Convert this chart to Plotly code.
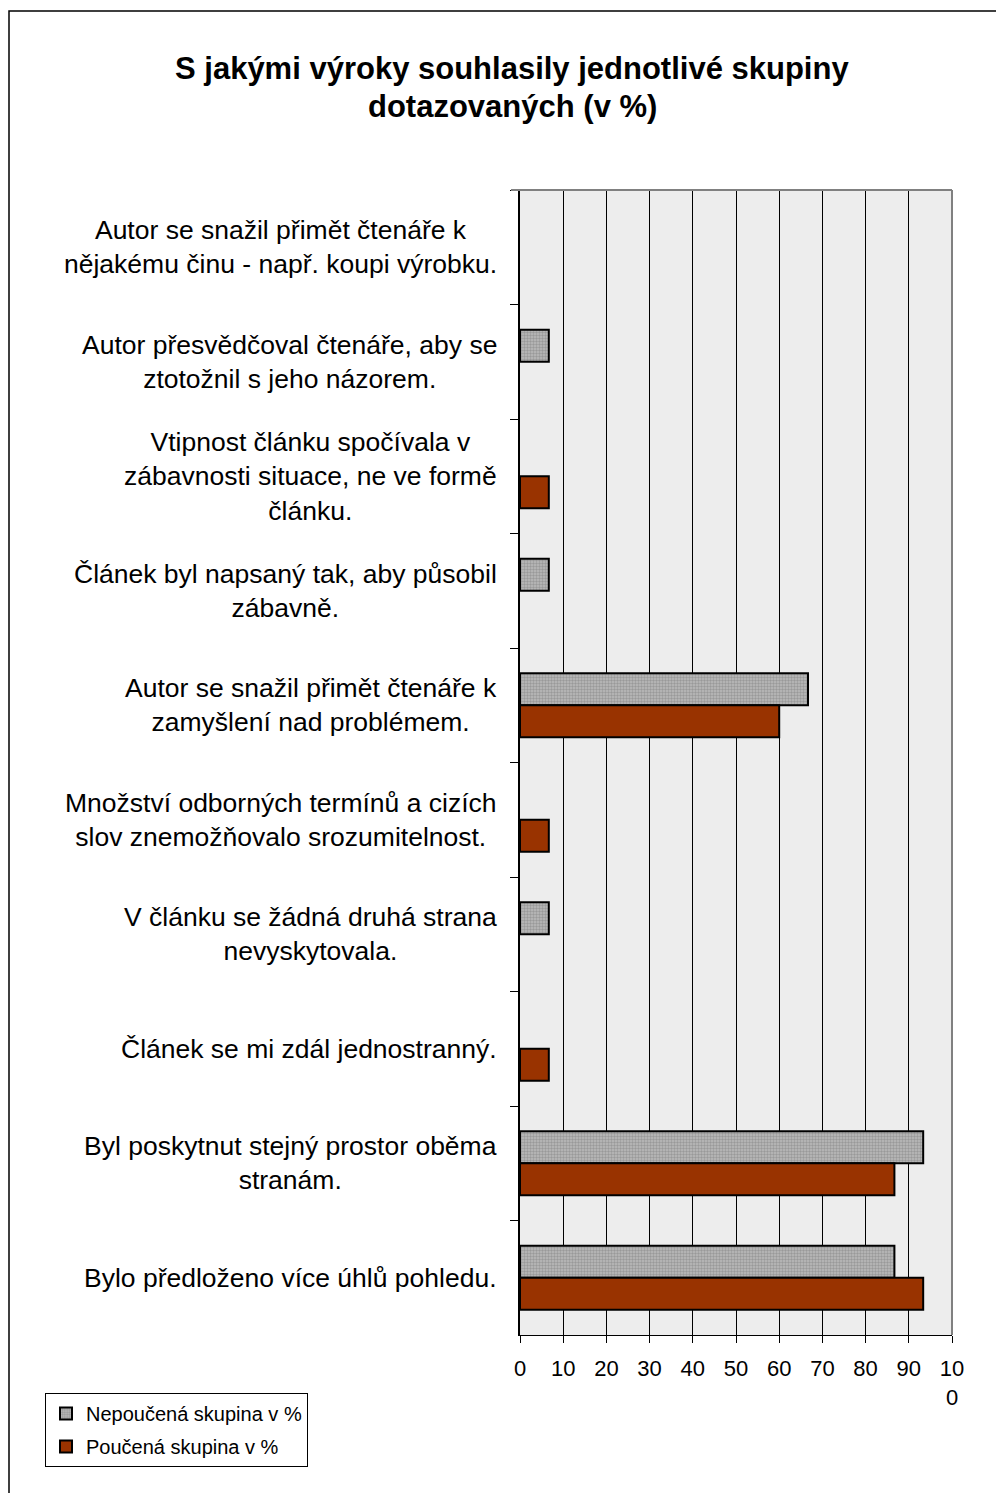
import plotly.graph_objects as go

# data
categories = [
    "Autor se snažil přimět čtenáře k<br>nějakému činu - např. koupi výrobku.",
    "Autor přesvědčoval čtenáře, aby se<br>ztotožnil s jeho názorem.",
    "Vtipnost článku spočívala v<br>zábavnosti situace, ne ve formě<br>článku.",
    "Článek byl napsaný tak, aby působil<br>zábavně.",
    "Autor se snažil přimět čtenáře k<br>zamyšlení nad problémem.",
    "Množství odborných termínů a cizích<br>slov znemožňovalo srozumitelnost.",
    "V článku se žádná druhá strana<br>nevyskytovala.",
    "Článek se mi zdál jednostranný.",
    "Byl poskytnut stejný prostor oběma<br>stranám.",
    "Bylo předloženo více úhlů pohledu.",
]
nepoucena = [0, 6.67, 0, 6.67, 66.67, 0, 6.67, 0, 93.33, 86.67]
poucena = [0, 0, 6.67, 0, 60.0, 6.67, 0, 6.67, 86.67, 93.33]
series_names = ["Nepoučená skupina v %", "Poučená skupina v %"]
x_ticks = [0, 10, 20, 30, 40, 50, 60, 70, 80, 90, 100]
x_tick_labels = ["0", "10", "20", "30", "40", "50", "60", "70", "80", "90", "10<br>0"]
title_lines = ["S jakými výroky souhlasily jednotlivé skupiny", "dotazovaných (v %)"]

# page has an 8px body margin, so the figure is a bit smaller than the window
OFF = 8
W, H = 1004 - OFF, 1493 - OFF
L, R, T, B = 520 - OFF, 52, 190 - OFF, 158
pw, ph = W - L - R, H - T - B


def px_x(p):  # page pixel -> paper x
    return (p - OFF - L) / pw


def px_y(p):  # page pixel -> paper y
    return (H - B - (p - OFF)) / ph


FONT = "Liberation Sans, Arial, sans-serif"


def blank_zero(vals):
    return [v if v else None for v in vals]


fig = go.Figure()
fig.add_trace(go.Bar(
    y=categories, x=blank_zero(nepoucena), orientation="h", name=series_names[0],
    legendgroup="a",
    marker=dict(color="#a4a4a4", line=dict(color="black", width=2),
                pattern=dict(shape=".", fgcolor="#767676", bgcolor="#bcbcbc",
                             size=3, solidity=0.5)),
))
fig.add_trace(go.Bar(
    y=categories, x=blank_zero(poucena), orientation="h", name=series_names[1],
    legendgroup="b",
    marker=dict(color="#993300", line=dict(color="black", width=2)),
))

fig.update_layout(
    width=W, height=H,
    margin=dict(l=L, r=R, t=T, b=B, autoexpand=False),
    paper_bgcolor="white", plot_bgcolor="#ededed",
    barmode="group", bargap=0.44, bargroupgap=0,
    font=dict(family=FONT, color="black"),
    showlegend=True,
    legend=dict(x=px_x(45), y=px_y(1393), xanchor="left", yanchor="top",
                bordercolor="black", borderwidth=1, bgcolor="white",
                font=dict(size=20, family=FONT), tracegroupgap=4,
                traceorder="grouped", itemwidth=30),
)

fig.update_xaxes(
    range=[0, 100], tickvals=x_ticks, ticktext=x_tick_labels,
    showgrid=True, gridcolor="black", gridwidth=1,
    showline=True, linecolor="black", linewidth=1,
    ticks="outside", ticklen=7, tickcolor="black", ticklabelstandoff=7,
    tickfont=dict(size=22), zeroline=False, fixedrange=True,
)
fig.update_yaxes(
    autorange="reversed", tickson="boundaries", ticks="outside", ticklen=8,
    tickcolor="black", showticklabels=False, showgrid=False,
    showline=True, linecolor="black", linewidth=2, fixedrange=True,
)

# category labels, centred multi-line like the original
for c in categories:
    fig.add_annotation(
        x=px_x(499), xref="paper", y=c, yref="y", text=c, showarrow=False,
        xanchor="right", yanchor="middle", align="center",
        font=dict(size=26.5, family=FONT),
    )

# title
for i, line in enumerate(title_lines):
    fig.add_annotation(
        x=px_x(512), xref="paper", y=px_y(68 + 38 * i), yref="paper",
        text="<b>" + line + "</b>", showarrow=False,
        xanchor="center", yanchor="middle", font=dict(size=31, family=FONT),
    )

# grey frame of the plot area (top and right)
fig.add_shape(type="line", xref="paper", yref="paper", x0=px_x(511), x1=1, y0=1, y1=1,
              line=dict(color="#808080", width=2), layer="above")
fig.add_shape(type="line", xref="paper", yref="paper", x0=1, x1=1, y0=0, y1=1,
              line=dict(color="#808080", width=2), layer="above")

# outer chart border
fig.add_shape(type="rect", xref="paper", yref="paper",
              x0=px_x(9), x1=px_x(1003), y0=px_y(1500), y1=px_y(11),
              line=dict(color="black", width=1.5), fillcolor="rgba(0,0,0,0)",
              layer="below")

fig.write_html("out.html")
